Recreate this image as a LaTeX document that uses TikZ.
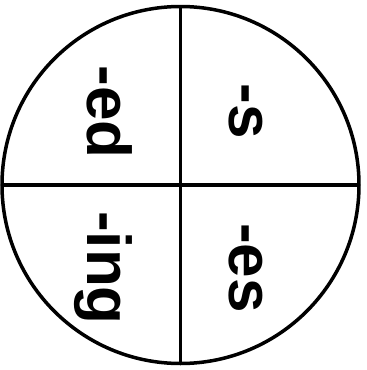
\documentclass[tikz,border=0pt]{standalone}
\usepackage{fontspec}
\setmainfont{Liberation Sans}
\begin{document}
\begin{tikzpicture}[x=1pt,y=-1pt,
  rim/.style={line width=3.5pt},
  divider/.style={line width=3.2pt},
  suffix/.style={font=\bfseries\fontsize{62}{62}\selectfont, rotate=-90, anchor=base, inner sep=0pt, text=black}]
\useasboundingbox (0,0) rectangle (367,370);
\coordinate (c) at (180.5,185);
\coordinate (t) at (180.5,6.5);
\coordinate (b) at (180.5,363.5);
\coordinate (l) at (2,185);
\coordinate (r) at (359,185);
\draw[rim] (c) circle[radius=178.5];
\draw[divider] (t) -- (b);
\draw[divider] (l) -- (r);
\node[suffix] (ed) at (87,112) {-ed};
\node[suffix] (s) at (229,111) {-s};
\node[suffix] (ing) at (87,268) {-ing};
\node[suffix] (es) at (229,268) {-es};
\end{tikzpicture}
\end{document}
